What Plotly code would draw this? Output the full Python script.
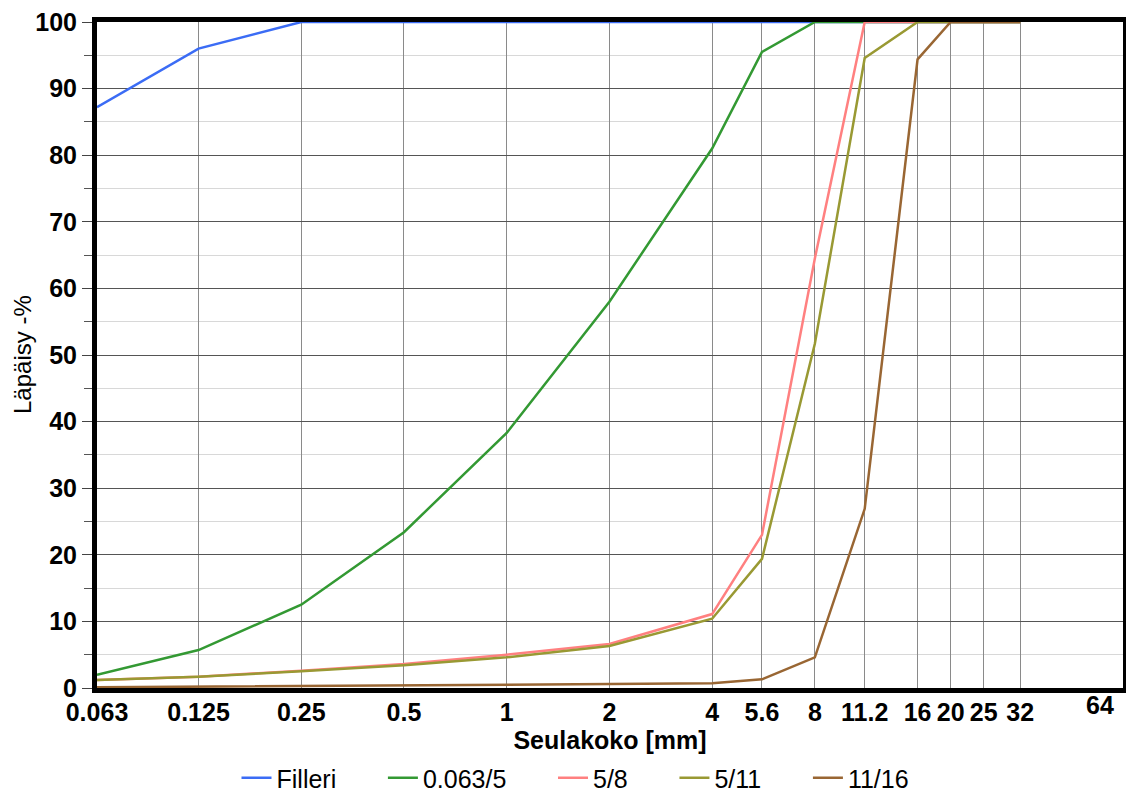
import plotly.graph_objects as go
import math

sieves = [0.063, 0.125, 0.25, 0.5, 1, 2, 4, 5.6, 8, 11.2, 16, 20, 25, 32]
tick_vals = [0.063, 0.125, 0.25, 0.5, 1, 2, 4, 5.6, 8, 11.2, 16, 20, 25, 32]
tick_text = ["0.063", "0.125", "0.25", "0.5", "1", "2", "4", "5.6", "8", "11.2", "16", "20", "25", "32"]

filleri = [87.2, 96.0, 100, 100, 100, 100, 100, 100, 100, 100, 100, 100, 100, 100]
f_0063_5 = [2.0, 5.7, 12.5, 23.4, 38.3, 58.0, 81.0, 95.5, 100, 100, 100, 100, 100, 100]
f_5_8 = [1.2, 1.7, 2.6, 3.6, 5.0, 6.6, 11.1, 23.0, 64.5, 100, 100, 100, 100, 100]
f_5_11 = [1.2, 1.7, 2.5, 3.4, 4.6, 6.3, 10.4, 19.4, 51.7, 94.6, 100, 100, 100, 100]
f_11_16 = [0.1, 0.2, 0.3, 0.3, 0.4, 0.5, 0.7, 1.3, 4.6, 26.9, 94.4, 100, 100, 100]

series = [
    ("Filleri", filleri, "#3b6cf5"),
    ("0.063/5", f_0063_5, "#339933"),
    ("5/8", f_5_8, "#ff8080"),
    ("5/11", f_5_11, "#999933"),
    ("11/16", f_11_16, "#996633"),
]

PAD = "\u00a0" * 6

fig = go.Figure()
for name, vals, col in series:
    fig.add_trace(go.Scatter(x=sieves, y=vals, mode="lines", name=name + PAD,
                             line=dict(color=col, width=2.5)))

FONT = "Liberation Sans, Arial, sans-serif"

fig.update_layout(
    width=1126, height=794,
    margin=dict(l=97, r=3, t=22, b=106, autoexpand=False),
    plot_bgcolor="white", paper_bgcolor="white",
    font=dict(family=FONT, color="black"),
    showlegend=True,
    legend=dict(orientation="h", xref="container", yref="container",
                x=596 / 1126, xanchor="center", y=(794 - 778) / 794, yanchor="middle",
                font=dict(size=25, family=FONT), tracegroupgap=0),
    xaxis=dict(
        type="log", automargin=False,
        range=[math.log10(0.063), math.log10(64)],
        tickvals=tick_vals, ticktext=tick_text, tickangle=0,
        tickfont=dict(size=25, family=FONT, weight="bold"),
        ticklabelstandoff=-2,
        showgrid=True, gridcolor="#8a8a8a", gridwidth=1,
        showline=True, linecolor="black", linewidth=5, mirror=True,
        ticks="", zeroline=False,
        title=dict(text="<b>Seulakoko [mm]</b>", font=dict(size=25, family=FONT), standoff=4),
    ),
    yaxis=dict(
        range=[0, 100], automargin=False,
        tickvals=list(range(0, 101, 10)),
        tickfont=dict(size=25, family=FONT, weight="bold"),
        showgrid=True, gridcolor="#555555", gridwidth=1,
        minor=dict(dtick=5, showgrid=True, gridcolor="#d8d8d8", gridwidth=1,
                   ticks="outside", ticklen=8, tickcolor="#555555"),
        ticks="outside", ticklen=10, tickcolor="#444444",
        showline=True, linecolor="black", linewidth=5, mirror=True,
        zeroline=False,
    ),
    annotations=[
        dict(text="<b>64</b>", xref="paper", yref="paper",
             x=(1100 - 97) / 1026, y=(688 - 705) / 666,
             xanchor="center", yanchor="middle", showarrow=False,
             font=dict(size=25, family=FONT, color="black")),
        dict(text="Läpäisy -%", xref="paper", yref="paper",
             x=(22 - 97) / 1026, y=(688 - 355) / 666, textangle=-90,
             xanchor="center", yanchor="middle", showarrow=False,
             font=dict(size=24, family=FONT, color="black")),
    ],
)

fig.write_html("out.html")
